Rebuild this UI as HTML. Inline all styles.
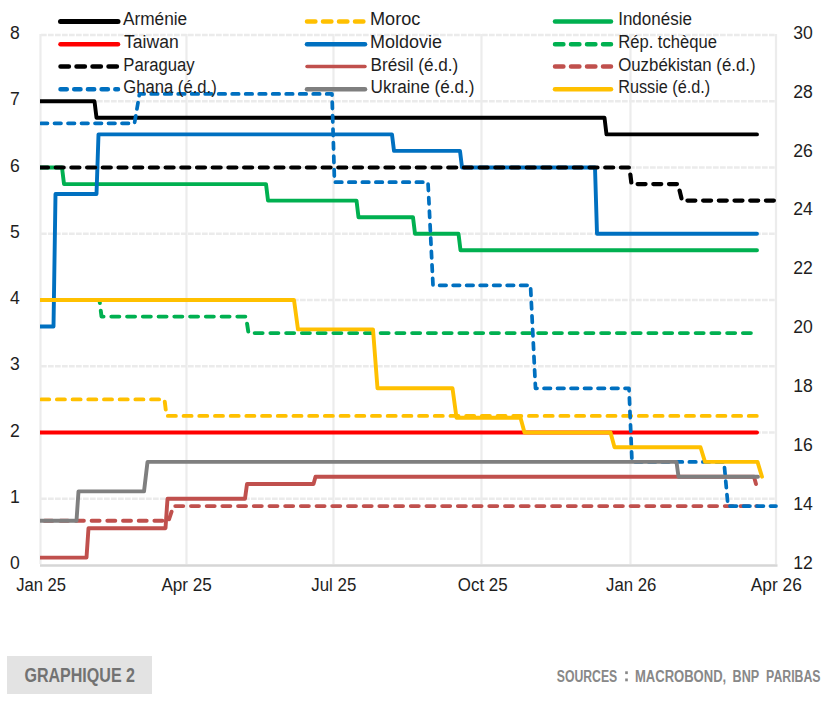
<!DOCTYPE html>
<html><head><meta charset="utf-8"><style>
html,body{margin:0;padding:0;background:#fff;}
body{width:829px;height:701px;overflow:hidden;position:relative;font-family:"Liberation Sans",sans-serif;}
svg{position:absolute;left:0;top:0;}
.lab{font-family:"Liberation Sans",sans-serif;font-size:17.6px;fill:#1e1e1e;}
.leg{font-family:"Liberation Sans",sans-serif;font-size:18px;fill:#1e1e1e;}
#tag{position:absolute;left:7px;top:656px;width:145px;height:38px;background:#e3e3e3;}
#tagt{position:absolute;left:25px;top:664px;font-weight:bold;font-size:18px;color:#6b6b6b;white-space:nowrap;transform-origin:0 0;}
#src{position:absolute;left:557px;top:668px;font-weight:bold;font-size:15px;color:#7f7f7f;white-space:nowrap;transform-origin:0 0;}
</style></head><body>
<svg width="829" height="701" viewBox="0 0 829 701">
<defs><clipPath id="pc"><rect x="40" y="20" width="760" height="560"/></clipPath></defs>
<g><line x1="41" y1="498.8" x2="775" y2="498.8" stroke="#ebebeb" stroke-width="2.5" stroke-dasharray="5.7 1.3"/>
<line x1="41" y1="432.5" x2="775" y2="432.5" stroke="#ebebeb" stroke-width="2.5" stroke-dasharray="5.7 1.3"/>
<line x1="41" y1="366.2" x2="775" y2="366.2" stroke="#ebebeb" stroke-width="2.5" stroke-dasharray="5.7 1.3"/>
<line x1="41" y1="300.0" x2="775" y2="300.0" stroke="#ebebeb" stroke-width="2.5" stroke-dasharray="5.7 1.3"/>
<line x1="41" y1="233.8" x2="775" y2="233.8" stroke="#ebebeb" stroke-width="2.5" stroke-dasharray="5.7 1.3"/>
<line x1="41" y1="167.5" x2="775" y2="167.5" stroke="#ebebeb" stroke-width="2.5" stroke-dasharray="5.7 1.3"/>
<line x1="41" y1="101.2" x2="775" y2="101.2" stroke="#ebebeb" stroke-width="2.5" stroke-dasharray="5.7 1.3"/>
<line x1="41" y1="35.0" x2="775" y2="35.0" stroke="#ebebeb" stroke-width="2.5" stroke-dasharray="5.7 1.3"/>
<line x1="40.5" y1="34" x2="40.5" y2="564" stroke="#ececec" stroke-width="2.2"/>
<line x1="186.5" y1="34" x2="186.5" y2="564" stroke="#ececec" stroke-width="2.2"/>
<line x1="333.5" y1="34" x2="333.5" y2="564" stroke="#ececec" stroke-width="2.2"/>
<line x1="481.5" y1="34" x2="481.5" y2="564" stroke="#ececec" stroke-width="2.2"/>
<line x1="630.5" y1="34" x2="630.5" y2="564" stroke="#ececec" stroke-width="2.2"/>
<line x1="776.0" y1="34" x2="776.0" y2="564" stroke="#ececec" stroke-width="2.2"/>
<line x1="40" y1="565.5" x2="777.5" y2="565.5" stroke="#d6d6d6" stroke-width="2.6"/></g>
<g clip-path="url(#pc)"><path d="M40.0 101.2 L94.5 101.2 L96.5 117.8 L604.5 117.8 L606.5 134.4 L757.0 134.4" stroke="#000000" stroke-width="3.9" fill="none" stroke-linecap="round" stroke-linejoin="round" />
<path d="M40.0 399.4 L164.5 399.4 L166.5 415.9 L757.0 415.9" stroke="#ffc000" stroke-width="3.9" fill="none" stroke-linecap="round" stroke-linejoin="round" stroke-dasharray="8 7.7" stroke-dashoffset="-1.2"/>
<path d="M40.0 167.5 L62.0 167.5 L64.0 184.1 L266.0 184.1 L268.0 200.6 L356.5 200.6 L358.5 217.2 L413.0 217.2 L415.0 233.8 L458.5 233.8 L460.5 250.3 L757.0 250.3" stroke="#00b050" stroke-width="3.9" fill="none" stroke-linecap="round" stroke-linejoin="round" />
<path d="M40.0 432.5 L757.0 432.5" stroke="#ff0000" stroke-width="3.9" fill="none" stroke-linecap="round" stroke-linejoin="round" />
<path d="M40.0 326.5 L53.5 326.5 L55.5 194.0 L96.5 194.0 L98.5 134.4 L392.0 134.4 L394.0 150.9 L460.0 150.9 L462.0 167.5 L595.0 167.5 L597.0 233.8 L757.0 233.8" stroke="#0070c0" stroke-width="3.9" fill="none" stroke-linecap="round" stroke-linejoin="round" />
<path d="M40.0 300.0 L99.5 300.0 L101.5 316.6 L246.0 316.6 L248.5 333.1 L757.0 333.1" stroke="#00b050" stroke-width="3.9" fill="none" stroke-linecap="round" stroke-linejoin="round" stroke-dasharray="8 7.75" stroke-dashoffset="-7.3"/>
<path d="M40.0 167.5 L629.5 167.5 L631.5 184.1 L678.0 184.1 L682.0 200.6 L775.0 200.6" stroke="#000000" stroke-width="4.2" fill="none" stroke-linecap="round" stroke-linejoin="round" stroke-dasharray="8 7.7" stroke-dashoffset="0"/>
<path d="M40.0 557.6 L86.5 557.6 L88.5 528.2 L165.5 528.2 L167.5 498.8 L245.0 498.8 L247.0 484.0 L313.5 484.0 L315.5 476.7 L754.0 476.7 L756.0 484.0" stroke="#c0504d" stroke-width="3.9" fill="none" stroke-linecap="round" stroke-linejoin="round" />
<path d="M40.0 520.8 L168.5 520.8 L173.5 506.1 L757.0 506.1" stroke="#c0504d" stroke-width="3.9" fill="none" stroke-linecap="round" stroke-linejoin="round" stroke-dasharray="8 7.7" stroke-dashoffset="-4.5"/>
<path d="M40.0 123.3 L134.5 123.3 L139.5 93.9 L332.0 93.9 L334.5 182.2 L428.0 182.2 L433.0 285.3 L530.5 285.3 L535.5 388.3 L629.0 388.3 L632.0 461.9 L724.0 461.9 L728.0 506.1 L776.0 506.1" stroke="#0070c0" stroke-width="3.7" fill="none" stroke-linecap="round" stroke-linejoin="round" stroke-dasharray="6.5 7" stroke-dashoffset="-1"/>
<path d="M40.0 520.8 L76.5 520.8 L78.5 491.4 L144.0 491.4 L147.5 461.9 L676.5 461.9 L678.5 476.7 L758.0 476.7" stroke="#7f7f7f" stroke-width="3.9" fill="none" stroke-linecap="round" stroke-linejoin="round" />
<path d="M40.0 300.0 L294.0 300.0 L298.0 329.4 L373.0 329.4 L377.5 388.3 L452.5 388.3 L456.5 417.8 L520.5 417.8 L524.5 432.5 L610.5 432.5 L614.5 447.2 L700.5 447.2 L705.0 461.9 L757.5 461.9 L762.0 476.7" stroke="#ffc000" stroke-width="3.9" fill="none" stroke-linecap="round" stroke-linejoin="round" /></g>
<g class="lab"><text x="15" y="569.0" text-anchor="middle">0</text>
<text x="15" y="502.8" text-anchor="middle">1</text>
<text x="15" y="436.5" text-anchor="middle">2</text>
<text x="15" y="370.2" text-anchor="middle">3</text>
<text x="15" y="304.0" text-anchor="middle">4</text>
<text x="15" y="237.8" text-anchor="middle">5</text>
<text x="15" y="171.5" text-anchor="middle">6</text>
<text x="15" y="105.2" text-anchor="middle">7</text>
<text x="15" y="39.0" text-anchor="middle">8</text>
<text x="803" y="568.7" text-anchor="middle">12</text>
<text x="803" y="509.8" text-anchor="middle">14</text>
<text x="803" y="450.9" text-anchor="middle">16</text>
<text x="803" y="392.0" text-anchor="middle">18</text>
<text x="803" y="333.1" text-anchor="middle">20</text>
<text x="803" y="274.3" text-anchor="middle">22</text>
<text x="803" y="215.4" text-anchor="middle">24</text>
<text x="803" y="156.5" text-anchor="middle">26</text>
<text x="803" y="97.6" text-anchor="middle">28</text>
<text x="803" y="38.7" text-anchor="middle">30</text>
<text x="16.2" y="591" textLength="49.9" lengthAdjust="spacingAndGlyphs">Jan 25</text>
<text x="161.4" y="591" textLength="50.5" lengthAdjust="spacingAndGlyphs">Apr 25</text>
<text x="311.3" y="591" textLength="45.0" lengthAdjust="spacingAndGlyphs">Jul 25</text>
<text x="457.8" y="591" textLength="49.8" lengthAdjust="spacingAndGlyphs">Oct 25</text>
<text x="606.0" y="591" textLength="50.3" lengthAdjust="spacingAndGlyphs">Jan 26</text>
<text x="750.7" y="591" textLength="51.1" lengthAdjust="spacingAndGlyphs">Apr 26</text></g>
<g class="leg"><line x1="60.5" y1="21.4" x2="118.0" y2="21.4" stroke="#000000" stroke-width="5" stroke-linecap="round" />
<text x="123.0" y="24.9" textLength="64.2" lengthAdjust="spacingAndGlyphs">Arménie</text>
<line x1="307.0" y1="21.4" x2="365.0" y2="21.4" stroke="#ffc000" stroke-width="4.5" stroke-linecap="round" stroke-dasharray="8.4 7.6"/>
<text x="370.0" y="24.9" textLength="50.3" lengthAdjust="spacingAndGlyphs">Moroc</text>
<line x1="555.0" y1="21.4" x2="611.0" y2="21.4" stroke="#00b050" stroke-width="4.5" stroke-linecap="round" />
<text x="618.2" y="24.9" textLength="73.7" lengthAdjust="spacingAndGlyphs">Indonésie</text>
<line x1="60.5" y1="44.2" x2="118.0" y2="44.2" stroke="#ff0000" stroke-width="4.5" stroke-linecap="round" />
<text x="124.1" y="47.9" textLength="54.6" lengthAdjust="spacingAndGlyphs">Taiwan</text>
<line x1="307.0" y1="44.2" x2="365.0" y2="44.2" stroke="#0070c0" stroke-width="4.5" stroke-linecap="round" />
<text x="370.0" y="47.9" textLength="72.0" lengthAdjust="spacingAndGlyphs">Moldovie</text>
<line x1="555.0" y1="44.2" x2="611.0" y2="44.2" stroke="#00b050" stroke-width="4.5" stroke-linecap="round" stroke-dasharray="8.4 7.6"/>
<text x="618.2" y="47.9" textLength="98.7" lengthAdjust="spacingAndGlyphs">Rép. tchèque</text>
<line x1="60.5" y1="66.6" x2="118.0" y2="66.6" stroke="#000000" stroke-width="4.5" stroke-linecap="round" stroke-dasharray="8.4 7.6"/>
<text x="123.3" y="70.9" textLength="71.4" lengthAdjust="spacingAndGlyphs">Paraguay</text>
<line x1="307.0" y1="66.6" x2="365.0" y2="66.6" stroke="#c0504d" stroke-width="3.5" stroke-linecap="round" />
<text x="370.6" y="70.9" textLength="87.6" lengthAdjust="spacingAndGlyphs">Brésil (é.d.)</text>
<line x1="555.0" y1="66.6" x2="611.0" y2="66.6" stroke="#c0504d" stroke-width="4.5" stroke-linecap="round" stroke-dasharray="8.4 7.6"/>
<text x="618.2" y="70.9" textLength="137.4" lengthAdjust="spacingAndGlyphs">Ouzbékistan (é.d.)</text>
<line x1="60.5" y1="89.3" x2="118.0" y2="89.3" stroke="#0070c0" stroke-width="4.5" stroke-linecap="round" stroke-dasharray="6.3 7.4"/>
<text x="123.3" y="92.8" textLength="93.4" lengthAdjust="spacingAndGlyphs">Ghana (é.d.)</text>
<line x1="307.0" y1="89.3" x2="365.0" y2="89.3" stroke="#7f7f7f" stroke-width="4.5" stroke-linecap="round" />
<text x="370.6" y="92.8" textLength="103.9" lengthAdjust="spacingAndGlyphs">Ukraine (é.d.)</text>
<line x1="555.0" y1="89.3" x2="611.0" y2="89.3" stroke="#ffc000" stroke-width="4.5" stroke-linecap="round" />
<text x="618.2" y="92.8" textLength="92.0" lengthAdjust="spacingAndGlyphs">Russie (é.d.)</text></g>
</svg>
<div id="tag"></div>
<svg width="829" height="701" viewBox="0 0 829 701" style="position:absolute;left:0;top:0">
<text x="24.4" y="682" font-family="Liberation Sans" font-weight="bold" font-size="19.5" fill="#727272" textLength="110.6" lengthAdjust="spacingAndGlyphs">GRAPHIQUE 2</text>
<g font-family="Liberation Sans" font-weight="bold" font-size="16" fill="#888888">
<text x="556.8" y="681.8" textLength="60.4" lengthAdjust="spacingAndGlyphs">SOURCES</text>
<rect x="625.2" y="671.3" width="2.6" height="2.8" fill="#888888"/>
<rect x="625.2" y="678.5" width="2.6" height="2.8" fill="#888888"/>
<text x="635" y="681.8" textLength="91.2" lengthAdjust="spacingAndGlyphs">MACROBOND,</text>
<text x="732.6" y="681.8" textLength="26.6" lengthAdjust="spacingAndGlyphs">BNP</text>
<text x="766.1" y="681.8" textLength="54.4" lengthAdjust="spacingAndGlyphs">PARIBAS</text>
</g>
</svg>
</body></html>
